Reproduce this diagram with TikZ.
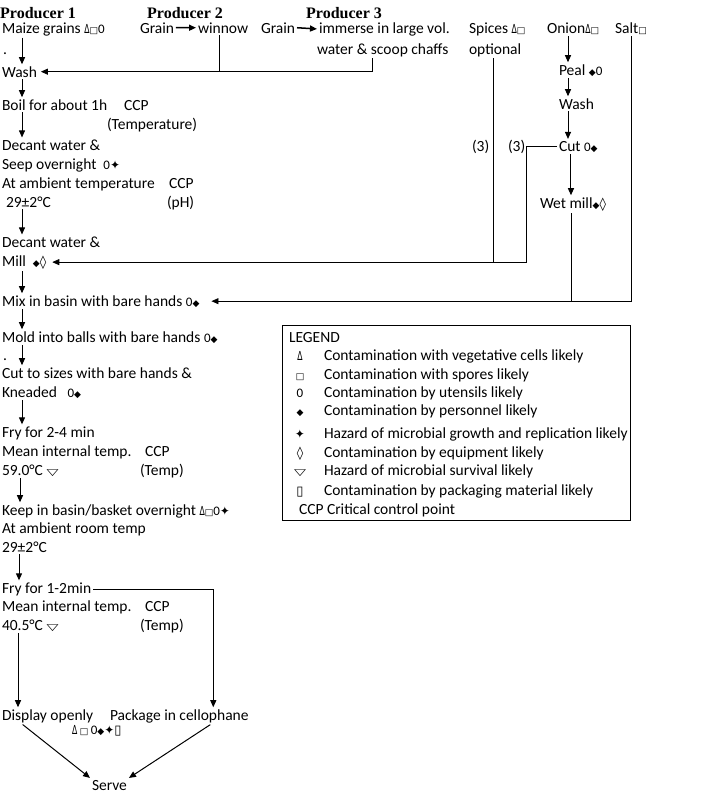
\documentclass[tikz,border=0pt]{standalone}
\usepackage{fontspec}
\usepackage{graphicx}
\usetikzlibrary{arrows.meta}
\setmainfont{Carlito}
\newfontfamily\hdrfont{Liberation Serif}
\newfontfamily\symfont{DejaVu Sans}
\newcommand{\bodyfont}{\fontsize{15.5}{18}\selectfont}
% hazard symbols
\newcommand{\veg}{{\symfont\fontsize{12}{12}\selectfont\scalebox{0.65}[1.05]{∆}}}
\newcommand{\spo}{{\symfont\fontsize{9}{9}\selectfont □}}
\newcommand{\ute}{{\fontsize{13}{13}\selectfont 0}}
\newcommand{\per}{{\symfont\fontsize{9}{9}\selectfont ◆}}
\newcommand{\gro}{{\symfont\fontsize{12}{12}\selectfont ✦}}
\newcommand{\equ}{{\symfont\fontsize{13}{13}\selectfont ◊}}
\newcommand{\sur}{{\symfont\fontsize{12}{12}\selectfont\scalebox{1.3}[0.75]{▽}}}
\newcommand{\pak}{{\symfont\fontsize{13}{13}\selectfont ▯}}
\tikzset{
  txt/.style={inner sep=0pt, outer sep=2pt, anchor=base west, font=\bodyfont},
  hdr/.style={inner sep=0pt, anchor=base west, font=\hdrfont\bfseries\fontsize{16}{18}\selectfont},
  arr/.style={-{Triangle[length=7pt,width=6pt]}, line width=1pt},
  ln/.style={line width=0.8pt},
}
\begin{document}
\begin{tikzpicture}[x=1pt, y=-1pt]
    \useasboundingbox (0,0) rectangle (710,795);
    \coordinate (col) at (22,0);
    \coordinate (ocol) at (568,0);
    % Producers
    \node[hdr] (p1) at (0,19) {Producer 1};
    \node[hdr] (p2) at (147,19) {Producer 2};
    \node[hdr] (p3) at (306,19) {Producer 3};
    \node[txt] (maize) at (0,33) {Maize grains \veg\spo\ute};
    \node[txt] (grainA) at (138,33) {Grain};
    \node[txt] (winnow) at (196,33) {winnow};
    \node[txt] (grainB) at (259,33) {Grain};
    \node[txt] (immerse) at (317,33) {immerse in large vol.};
    \node[txt] (scoop) at (315,54) {water \& scoop chaffs};
    \node[txt] (spices) at (467,33) {Spices \veg\spo};
    \node[txt] (optional) at (467,54) {optional};
    \node[txt] (onion) at (545,33) {Onion\veg\spo};
    \node[txt] (salt) at (613,33) {Salt\spo};
    \node[txt] (dotA) at (1,54) {.};
    % Main line, producer 1
    \node[txt] (wash) at (0,77) {Wash};
    \node[txt] (boil) at (0,110) {Boil for about 1h};
    \node[txt] (ccpA) at (122,110) {CCP};
    \node[txt] (tempA) at (105,129) {(Temperature)};
    \node[txt] (decantA) at (0,150) {Decant water \&};
    \node[txt] (seep) at (0,169) {Seep overnight\ \ \ute\gro};
    \node[txt] (ambient) at (0,188) {At ambient temperature};
    \node[txt] (ccpB) at (167,188) {CCP};
    \node[txt] (roomA) at (4,207) {29±2°C};
    \node[txt] (ph) at (165,207) {(pH)};
    \node[txt] (decantB) at (0,247) {Decant water \&};
    \node[txt] (mill) at (0,266) {Mill\ \ \per\equ};
    % Onion line
    \node[txt] (peal) at (557,75) {Peal \per\ute};
    \node[txt] (washB) at (557,109) {Wash};
    \node[txt] (cut) at (557,151) {Cut \ute\per};
    \node[txt] (threeA) at (470,151) {(3)};
    \node[txt] (threeB) at (506,151) {(3)};
    \node[txt] (wetmill) at (538,208) {Wet mill\per\equ};
    % Main line, continued
    \node[txt] (mix) at (0,306) {Mix in basin with bare hands \ute\per};
    \node[txt] (mold) at (0,342) {Mold into balls with bare hands \ute\per};
    \node[txt] (dotB) at (1,360) {.};
    \node[txt] (cutsz) at (0,378) {Cut to sizes with bare hands \&};
    \node[txt] (knead) at (0,397) {Kneaded\ \ \ \ute\per};
    \node[txt] (fryA) at (0,437) {Fry for 2-4 min};
    \node[txt] (meanA) at (0,456) {Mean internal temp.};
    \node[txt] (ccpC) at (143,456) {CCP};
    \node[txt] (tfiftynine) at (0,475) {59.0°C \sur};
    \node[txt] (tmpC) at (138,475) {(Temp)};
    \node[txt] (keep) at (0,515) {Keep in basin/basket overnight \veg\spo\ute\gro};
    \node[txt] (roomtemp) at (0,533) {At ambient room temp};
    \node[txt] (roomB) at (0,552) {29±2°C};
    \node[txt] (fryB) at (0,593) {Fry for 1-2min};
    \node[txt] (meanB) at (0,611) {Mean internal temp.};
    \node[txt] (ccpD) at (143,611) {CCP};
    \node[txt] (tforty) at (0,630) {40.5°C \sur};
    \node[txt] (tmpD) at (138,630) {(Temp)};
    \node[txt] (display) at (0,720) {Display openly};
    \node[txt] (pack) at (108,720) {Package in cellophane};
    \node[txt] (dsyms) at (70,734) {\veg\,\spo\,\ute\per\gro\pak};
    \node[txt] (serve) at (90,790) {Serve};
    % Draw the main arrows
    \draw[arr] (maize.south -| col) -- (wash.north -| col);
    \draw[arr] (wash.south -| col) -- (boil.north -| col);
    \draw[arr] (boil.south -| col) -- (decantA.north -| col);
    \draw[arr] (roomA.south -| col) -- (decantB.north -| col);
    \draw[arr] (mill.south -| col) -- (mix.north -| col);
    \draw[arr] (mix.south -| col) -- (mold.north -| col);
    \draw[arr] (mold.south -| col) -- (cutsz.north -| col);
    \draw[arr] (knead.south -| col) -- (fryA.north -| col);
    \draw[arr] ([xshift=20pt]tfiftynine.south west) -- ([xshift=20pt]keep.north west);
    \draw[arr] ([xshift=19pt]roomB.south west) -- ([xshift=19pt]fryB.north west);
    \draw[arr] ([xshift=18pt]tforty.south west) -- ([xshift=18pt]display.north west);
    % Producer 2 and 3 into wash
    \draw[arr, line width=1.5pt] (grainA.east) -- (winnow.west);
    \draw[arr, line width=1.5pt] (grainB.east) -- (immerse.west);
    \draw[ln] ([xshift=-4pt]winnow.south) -- ([xshift=-4pt]winnow.south |- wash.east);
    \draw[arr, line width=0.8pt] ([xshift=-10pt]scoop.south) |- ([xshift=2pt]wash.east);
    % Onion arrows
    \draw[arr] (onion.south -| ocol) -- (peal.north -| ocol);
    \draw[arr] (peal.south -| ocol) -- (washB.north -| ocol);
    \draw[arr] (washB.south -| ocol) -- (cut.north -| ocol);
    \draw[arr] ([xshift=-2pt]cut.south -| wetmill.south) -- ([xshift=-2pt]wetmill.north);
    % Spices and onion into mill
    \draw[ln] ([xshift=-2pt]optional.south) -- ([xshift=-2pt]optional.south |- mill.east);
    \draw[arr, line width=0.8pt] (cut.west) -| ([xshift=-1pt]threeB.east |- mill.east) -- ([xshift=4pt]mill.east);
    % Wet mill and salt into mix
    \draw[ln] ([xshift=-2pt]wetmill.south) -- ([xshift=-2pt]wetmill.south |- mix.east);
    \draw[arr, line width=0.8pt] (salt.south) |- ([xshift=10pt]mix.east);
    % Fry to package and serve
    \draw[arr, line width=0.8pt] (fryB.east) -| ([xshift=34pt]pack.north);
    \draw[arr] ([xshift=-25pt]display.south) -- (serve.north west);
    \draw[arr] ([xshift=31pt]pack.south) -- (serve.north east);
    % Legend
    \node[draw, line width=0.8pt, minimum width=348pt, minimum height=195pt, anchor=north west, inner sep=0pt] (legend) at (282,325) {};
    \node[txt] (legtitle) at (287,342) {LEGEND};
    \foreach \s/\t/\yy [count=\i] in {\veg/Contamination with vegetative cells likely/360,
            \spo/Contamination with spores likely/379,
            \ute/Contamination by utensils likely/397,
            \per/Contamination by personnel likely/415,
            \gro/Hazard of microbial growth and replication likely/438,
            \equ/Contamination by equipment likely/457,
            \sur/Hazard of microbial survival likely/475,
            \pak/Contamination by packaging material likely/495} {
            \node[inner sep=0pt, anchor=base, font=\bodyfont] (legsym\i) at (300,\yy) {\s};
            \node[txt] (legtxt\i) at (322,\yy) {\t};
        }
    \node[txt] (legccp) at (297,514) {CCP Critical control point};
\end{tikzpicture}
\end{document}
